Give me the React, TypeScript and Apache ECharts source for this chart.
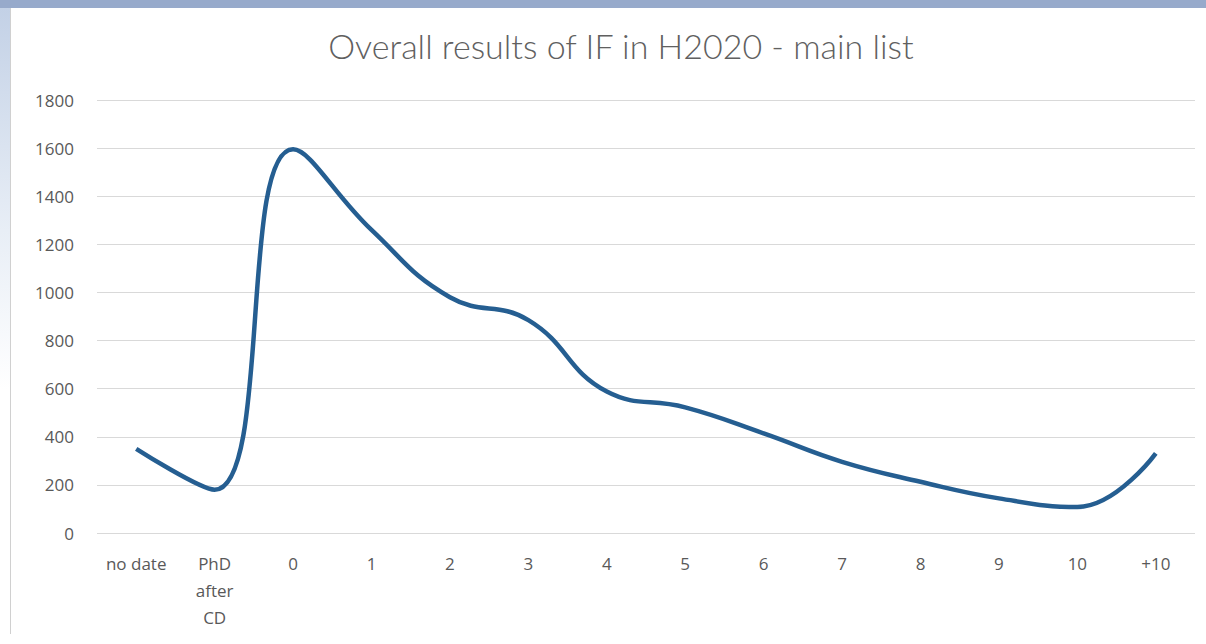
import React, { useEffect, useRef } from "react";
import * as echarts from "echarts";

const categories = ["no date", "PhD\nafter\nCD", "0", "1", "2", "3", "4", "5", "6", "7", "8", "9", "10", "+10"];
const values = [350, 180, 1595, 1260, 980, 885, 588, 522, 414, 296, 213, 144, 108, 331];
const yTicks = [0, 200, 400, 600, 800, 1000, 1200, 1400, 1600, 1800];

export default function App() {
  const ref = useRef<HTMLDivElement>(null);
  useEffect(() => {
    if (!ref.current) return;
    const chart = echarts.init(ref.current, undefined, { renderer: "svg" });
    chart.setOption({
      animation: false,
      backgroundColor: "#ffffff",
      title: {
        text: "Overall results of IF in H2020 - main list",
        left: 616,
        top: 23,
        textAlign: "center",
        textStyle: { fontFamily: "Lato", fontSize: 34, fontWeight: 300, color: "#606060" },
      },
      graphic: [
        { type: "rect", shape: { x: 0, y: 0, width: 1206, height: 8 }, style: { fill: "#97aacb" }, z: 10 },
        {
          type: "rect",
          shape: { x: 0, y: 8, width: 10, height: 636 },
          style: {
            fill: new echarts.graphic.LinearGradient(0, 0, 0, 1, [
              { offset: 0, color: "#c3d1e6" },
              { offset: 0.35, color: "#e8eef6" },
              { offset: 0.6, color: "#ffffff" },
              { offset: 1, color: "#ffffff" },
            ]),
          },
          z: 10,
        },
        { type: "line", shape: { x1: 10.5, y1: 8, x2: 10.5, y2: 634 }, style: { stroke: "#d0d0d0", lineWidth: 1 }, z: 10 },
      ],
      grid: { left: 97, right: 11, top: 100, bottom: 111, containLabel: false },
      xAxis: {
        type: "category",
        data: categories,
        boundaryGap: true,
        axisLine: { show: false },
        axisTick: { show: false },
        axisLabel: {
          color: "#595959",
          fontFamily: "Open Sans",
          fontSize: 17,
          lineHeight: 27,
          margin: 17,
          interval: 0,
        },
      },
      yAxis: {
        type: "value",
        min: 0,
        max: 1800,
        interval: 200,
        axisLine: { show: false },
        axisTick: { show: false },
        splitLine: { lineStyle: { color: "#d9d9d9", width: 1 } },
        axisLabel: {
          color: "#595959",
          fontFamily: "Open Sans",
          fontSize: 17,
          margin: 23,
          formatter: (v: number) => (yTicks.includes(v) ? String(v) : ""),
        },
      },
      series: [
        {
          type: "line",
          data: values,
          smooth: 0.45,
          showSymbol: false,
          lineStyle: { color: "#255e91", width: 4.5 },
        },
      ],
    });
    return () => chart.dispose();
  }, []);
  return (
    <div
      ref={ref}
      style={{ position: "fixed", left: 0, top: 0, width: 1206, height: 644 }}
    />
  );
}
